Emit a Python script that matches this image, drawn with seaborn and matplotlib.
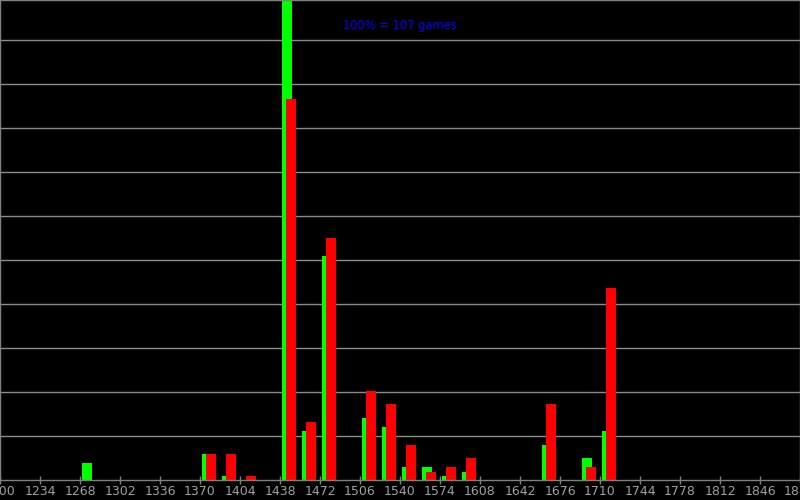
import matplotlib
matplotlib.use("Agg")
import matplotlib.pyplot as plt
import seaborn as sns
import numpy as np
import pandas as pd

# --- data (bar heights in % units, gridline every 10) ---
green_bins = [1268, 1370, 1387, 1438, 1455, 1472, 1506, 1523, 1540, 1557, 1574, 1591, 1659, 1693, 1710]
green_vals = [3.9, 5.9, 0.9, 115.0, 11.1, 50.9, 14.1, 12.0, 3.0, 3.0, 0.9, 1.8, 8.0, 5.0, 11.1]
red_bins = [1370, 1387, 1404, 1438, 1455, 1472, 1506, 1523, 1540, 1557, 1574, 1591, 1659, 1693, 1710]
red_vals = [5.9, 5.9, 0.9, 86.6, 13.2, 55.0, 20.2, 17.3, 8.0, 1.8, 3.0, 5.0, 17.3, 3.0, 43.6]
tick_values = list(range(1200, 1881, 34))
caption = "100% = 107 games"

# --- style ---
sns.set_theme(style="dark", rc={
    "axes.facecolor": "black",
    "figure.facecolor": "black",
    "axes.edgecolor": "#808080",
})
plt.rcParams["font.family"] = ["DejaVu Sans"]

GREEN_OFF = 5.95   # bar centre offset inside a 17-point bin
RED_OFF = 9.35

fig = plt.figure(figsize=(8, 5), dpi=100)
ax = fig.add_axes([0, 20 / 500, 1, 480 / 500])

df_g = pd.DataFrame({"rating": np.array(green_bins) + GREEN_OFF, "pct": green_vals})
df_r = pd.DataFrame({"rating": np.array(red_bins) + RED_OFF, "pct": red_vals})

sns.barplot(data=df_g, x="rating", y="pct", native_scale=True, orient="x", width=0.5,
            color="#00ff00", saturation=1, linewidth=0, errorbar=None, ax=ax)
sns.barplot(data=df_r, x="rating", y="pct", native_scale=True, orient="x", width=0.5,
            color="#ff0000", saturation=1, linewidth=0, errorbar=None, ax=ax)

ax.set_xlim(1200, 1880)
ax.set_ylim(0, 480 / 4.4)
ax.set_xlabel("")
ax.set_ylabel("")

ax.set_yticks(np.arange(10, 101, 10))
ax.set_yticklabels([])
ax.tick_params(axis="y", length=0)
ax.yaxis.grid(True, color="#8c8c8c", linewidth=1)
ax.xaxis.grid(False)
ax.set_axisbelow(True)

# labels at the outer ticks are cut by the figure edge, as in the original
ax.set_xticks(tick_values)
ax.set_xticklabels([str(t) for t in tick_values])
ax.tick_params(axis="x", direction="inout", length=6, width=1, color="#808080",
               labelcolor="#a0a0a0", labelsize=9, pad=0.5, bottom=True)

for s in ax.spines.values():
    s.set_color("#808080")
    s.set_linewidth(1)

fig.text(0.5, 1 - 25 / 500, caption, color="#0000ff", ha="center", va="center", fontsize=8.3)

fig.savefig("out.png", dpi=100, facecolor="black")
